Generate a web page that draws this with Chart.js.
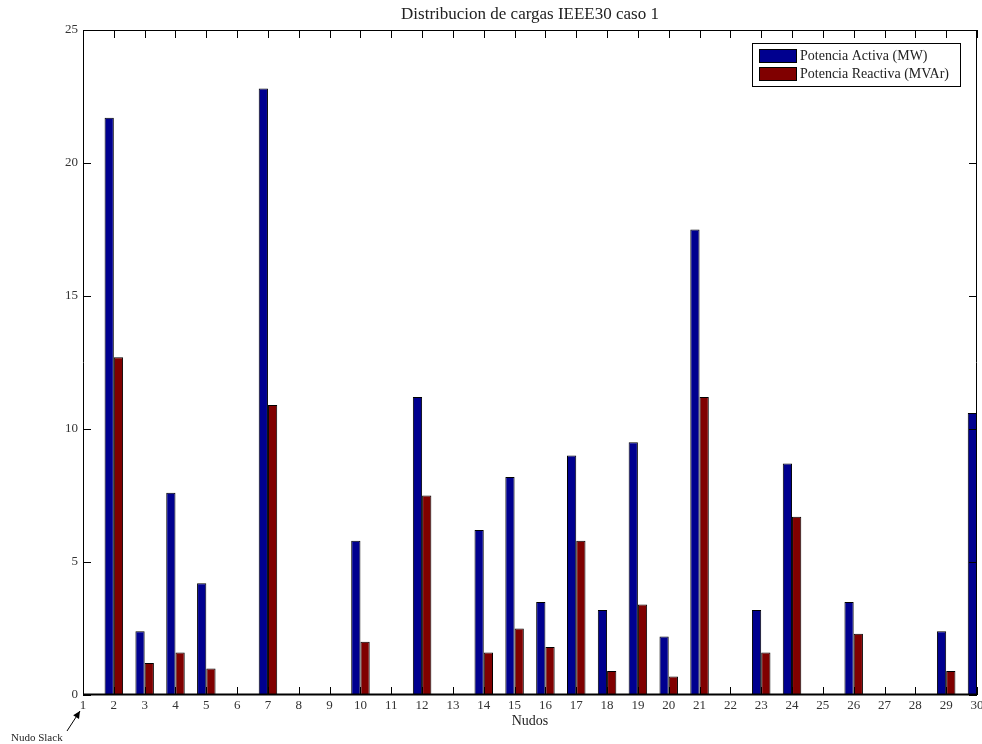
<!DOCTYPE html>
<html>
<head>
<meta charset="utf-8">
<script src="https://cdn.jsdelivr.net/npm/chart.js@4/dist/chart.umd.min.js"></script>
<style>
  html, body { margin: 0; padding: 0; background: #fff; }
  #wrap { width: 982px; height: 744px; }
</style>
</head>
<body>
<div id="wrap"><canvas id="myChart" width="982" height="744"></canvas></div>
<script>
// datos de carga por nudo
const nudos = ['1','2','3','4','5','6','7','8','9','10','11','12','13','14','15',
               '16','17','18','19','20','21','22','23','24','25','26','27','28','29','30'];
const potenciaActiva   = [0, 21.7, 2.4, 7.6, 4.2, 0, 22.8, 0, 0, 5.8, 0, 11.2, 0, 6.2, 8.2,
                          3.5, 9.0, 3.2, 9.5, 2.2, 17.5, 0, 3.2, 8.7, 0, 3.5, 0, 0, 2.4, 10.6];
const potenciaReactiva = [0, 12.7, 1.2, 1.6, 1.0, 0, 10.9, 0, 0, 2.0, 0, 7.5, 0, 1.6, 2.5,
                          1.8, 5.8, 0.9, 3.4, 0.7, 11.2, 0, 1.6, 6.7, 0, 2.3, 0, 0, 0.9, 1.9];
const yTicks = [0, 5, 10, 15, 20, 25];
const titulo = 'Distribucion de cargas IEEE30 caso 1';

const serif = "'Liberation Serif', 'DejaVu Serif', serif";

// marco tipo matlab con ticks hacia dentro + titulo + leyenda + nota del nudo slack
const matlabFrame = {
    id: 'matlabFrame',
    afterDraw(chart) {
        const ctx = chart.ctx;
        const a = chart.chartArea;
        const xs = chart.scales.x, ys = chart.scales.y;
        ctx.save();
        ctx.strokeStyle = '#000';
        ctx.lineWidth = 1;
        ctx.beginPath();
        ctx.rect(a.left + 0.5, a.top + 0.5, a.right - a.left - 1, a.bottom - a.top - 1);
        ctx.stroke();
        const tl = 8;
        ctx.beginPath();
        nudos.forEach((n, i) => {
            const px = Math.round(xs.getPixelForValue(i)) + 0.5;
            ctx.moveTo(px, a.bottom); ctx.lineTo(px, a.bottom - tl);
            ctx.moveTo(px, a.top); ctx.lineTo(px, a.top + tl);
        });
        yTicks.forEach(v => {
            const py = Math.round(ys.getPixelForValue(v)) + 0.5;
            ctx.moveTo(a.left, py); ctx.lineTo(a.left + tl, py);
            ctx.moveTo(a.right, py); ctx.lineTo(a.right - tl, py);
        });
        ctx.stroke();
        // baseline
        ctx.lineWidth = 2;
        ctx.beginPath();
        ctx.moveTo(a.left, a.bottom - 0.5); ctx.lineTo(a.right, a.bottom - 0.5);
        ctx.stroke();

        // titulo centrado sobre los ejes
        ctx.font = '17px ' + serif;
        ctx.fillStyle = '#222';
        ctx.textAlign = 'center';
        ctx.textBaseline = 'middle';
        ctx.fillText(titulo, (a.left + a.right) / 2, 15);

        // leyenda
        const lx = 752, ly = 43, lw = 208, lh = 43;
        ctx.fillStyle = '#fff';
        ctx.fillRect(lx, ly, lw, lh);
        ctx.lineWidth = 1;
        ctx.strokeRect(lx + 0.5, ly + 0.5, lw, lh);
        ctx.font = '14px ' + serif;
        ctx.textAlign = 'left';
        chart.data.datasets.forEach((ds, i) => {
            const sy = ly + 6 + i * 18;
            ctx.fillStyle = ds.backgroundColor;
            ctx.fillRect(759, sy, 37, 13);
            ctx.strokeRect(759.5, sy + 0.5, 37, 13);
            ctx.fillStyle = '#222';
            ctx.fillText(ds.label, 800, sy + 7);
        });

        // nudo slack
        ctx.font = '11px ' + serif;
        ctx.fillStyle = '#222';
        ctx.fillText('Nudo Slack', 11, 738);
        const x0 = 67, y0 = 731, x1 = Math.round(xs.getPixelForValue(0)) - 3, y1 = 711;
        ctx.beginPath();
        ctx.moveTo(x0, y0); ctx.lineTo(x1, y1);
        ctx.stroke();
        const ang = Math.atan2(y1 - y0, x1 - x0);
        ctx.beginPath();
        ctx.moveTo(x1, y1);
        ctx.lineTo(x1 - 8 * Math.cos(ang - 0.45), y1 - 8 * Math.sin(ang - 0.45));
        ctx.lineTo(x1 - 8 * Math.cos(ang + 0.45), y1 - 8 * Math.sin(ang + 0.45));
        ctx.closePath();
        ctx.fillStyle = '#000';
        ctx.fill();
        ctx.restore();
    }
};

const ctx = document.getElementById('myChart');
const myChart = new Chart(ctx, {
    type: 'bar',
    data: {
        labels: nudos,
        datasets: [{
            label: 'Potencia Activa (MW)',
            data: potenciaActiva,
            backgroundColor: '#00008F',
            borderColor: '#000',
            borderWidth: 1,
            borderSkipped: 'start'
        }, {
            label: 'Potencia Reactiva (MVAr)',
            data: potenciaReactiva,
            backgroundColor: '#800000',
            borderColor: '#000',
            borderWidth: 1,
            borderSkipped: 'start'
        }]
    },
    options: {
        responsive: false,
        animation: false,
        devicePixelRatio: 1,
        categoryPercentage: 0.6,
        barPercentage: 1.0,
        layout: { padding: { left: 0, right: 5, top: 30, bottom: 0 } },
        plugins: {
            legend: { display: false },
            tooltip: { enabled: false },
            title: { display: false }
        },
        scales: {
            x: {
                offset: false,
                grid: { display: false, drawTicks: false },
                border: { display: false },
                ticks: {
                    color: '#333',
                    font: { family: serif, size: 13 },
                    padding: 3,
                    maxRotation: 0,
                    autoSkip: false
                },
                title: {
                    display: true,
                    text: 'Nudos',
                    color: '#222',
                    font: { family: serif, size: 14 },
                    padding: { top: 0, bottom: 14 }
                },
                afterFit: (s) => { s.height = 49; s.paddingRight = 0; s.paddingLeft = 0; }
            },
            y: {
                min: 0,
                max: 25,
                grid: { display: false, drawTicks: false },
                border: { display: false },
                ticks: {
                    stepSize: 5,
                    color: '#333',
                    font: { family: serif, size: 13 },
                    padding: 5
                },
                afterFit: (s) => { s.width = 83; s.paddingTop = 0; s.paddingBottom = 0; }
            }
        }
    },
    plugins: [matlabFrame]
});
</script>
</body>
</html>
